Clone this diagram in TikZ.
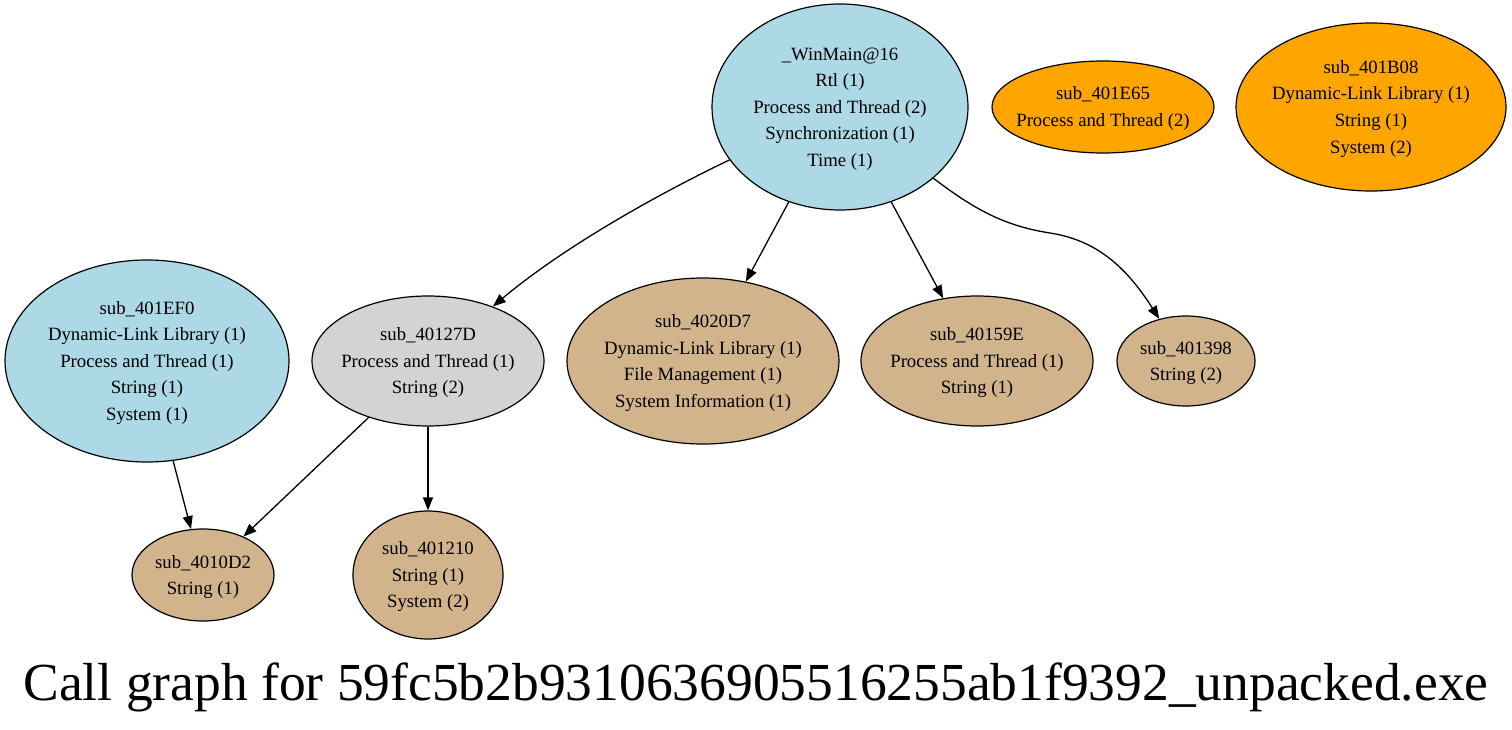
\documentclass[tikz,border=0pt]{standalone}
\usepackage{fontspec}
\setmainfont{Liberation Serif}
\usetikzlibrary{shapes.geometric,arrows.meta}
\definecolor{cgblue}{HTML}{ADD8E6}
\definecolor{cgorange}{HTML}{FFA500}
\definecolor{cggray}{HTML}{D3D3D3}
\definecolor{cgtan}{HTML}{D2B48C}
\newcommand{\cgline}[1]{#1\rule[-7pt]{0pt}{26.6pt}}
\begin{document}
\begin{tikzpicture}[x=1pt,y=1pt,
  fn/.style={ellipse,draw=black,line width=1.2pt,inner sep=-40pt,align=center,
    font=\fontsize{18.75}{26.6}\selectfont},
  bluefn/.style={fn,fill=cgblue},
  orangefn/.style={fn,fill=cgorange},
  grayfn/.style={fn,fill=cggray},
  tanfn/.style={fn,fill=cgtan},
  call/.style={draw=black,line width=1.3pt,-{Triangle[length=13pt,width=10pt]}}
]
\useasboundingbox (0,0) rectangle (1512,-730);
\node[bluefn,minimum width=256pt,minimum height=206pt] (winmain) at (840,-107)
  {\cgline{\_WinMain@16}\\\cgline{Rtl (1)}\\\cgline{Process and Thread (2)}\\\cgline{Synchronization (1)}\\\cgline{Time (1)}};
\node[orangefn,minimum width=222pt,minimum height=92pt] (e65) at (1103,-107)
  {\cgline{sub\_401E65}\\\cgline{Process and Thread (2)}};
\node[orangefn,minimum width=270pt,minimum height=168pt] (b08) at (1371,-107)
  {\cgline{sub\_401B08}\\\cgline{Dynamic-Link Library (1)}\\\cgline{String (1)}\\\cgline{System (2)}};
\node[bluefn,minimum width=284pt,minimum height=202pt] (ef0) at (147,-361)
  {\cgline{sub\_401EF0}\\\cgline{Dynamic-Link Library (1)}\\\cgline{Process and Thread (1)}\\\cgline{String (1)}\\\cgline{System (1)}};
\node[grayfn,minimum width=232pt,minimum height=130pt] (n27d) at (428,-361)
  {\cgline{sub\_40127D}\\\cgline{Process and Thread (1)}\\\cgline{String (2)}};
\node[tanfn,minimum width=272pt,minimum height=166pt] (n0d7) at (703,-361)
  {\cgline{sub\_4020D7}\\\cgline{Dynamic-Link Library (1)}\\\cgline{File Management (1)}\\\cgline{System Information (1)}};
\node[tanfn,minimum width=232pt,minimum height=130pt] (n59e) at (977,-361)
  {\cgline{sub\_40159E}\\\cgline{Process and Thread (1)}\\\cgline{String (1)}};
\node[tanfn,minimum width=138pt,minimum height=90pt] (n398) at (1186,-361)
  {\cgline{sub\_401398}\\\cgline{String (2)}};
\node[tanfn,minimum width=142pt,minimum height=92pt] (n0d2) at (203,-575)
  {\cgline{sub\_4010D2}\\\cgline{String (1)}};
\node[tanfn,minimum width=150pt,minimum height=128pt] (n210) at (428,-575)
  {\cgline{sub\_401210}\\\cgline{String (1)}\\\cgline{System (2)}};
\node[anchor=base,inner sep=0pt,font=\fontsize{53.5}{60}\selectfont] (title) at (756,-700)
  {Call graph for 59fc5b2b9310636905516255ab1f9392\_unpacked.exe};
\draw[call] (winmain) .. controls (650,-198) and (560,-250) .. (n27d);
\draw[call] (winmain) -- (n0d7);
\draw[call] (winmain) -- (n59e);
\draw[call] (winmain) .. controls (975,-210) and (1005,-226) .. (1050,-233)
  .. controls (1095,-240) and (1125,-265) .. (n398);
\draw[call] (ef0) -- (n0d2);
\draw[call] (n27d) -- (n0d2);
\draw[call] (n27d) -- (n210);
\end{tikzpicture}
\end{document}
